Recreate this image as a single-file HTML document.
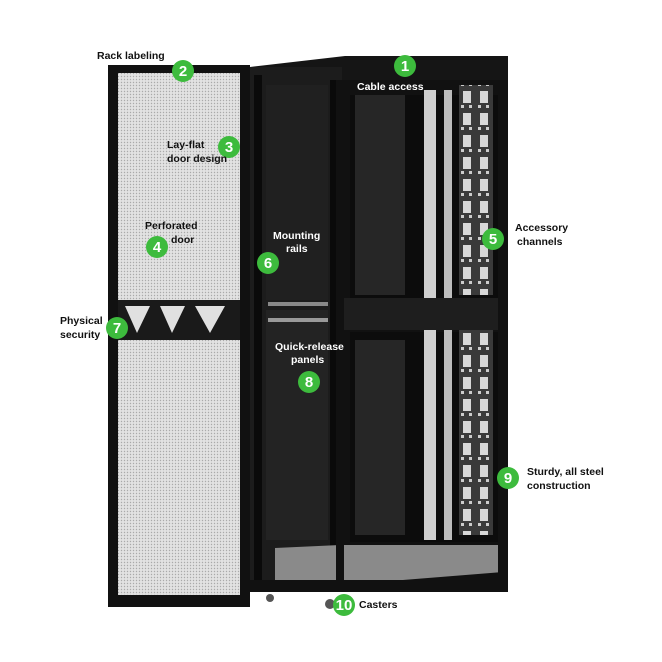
<!DOCTYPE html>
<html><head><style>
body{margin:0;background:#fff;}
svg{display:block;}
text{font-family:"Liberation Sans",sans-serif;font-weight:bold;}
</style></head><body>
<svg width="662" height="662" viewBox="0 0 662 662" xmlns="http://www.w3.org/2000/svg">
<defs>
<pattern id="mesh" width="3" height="3" patternUnits="userSpaceOnUse">
<rect width="3" height="3" fill="#e2e2e2"/><circle cx="1.5" cy="1.5" r="0.7" fill="#aaa"/>
</pattern>
<pattern id="holes" width="17" height="22" patternUnits="userSpaceOnUse">
<rect width="17" height="22" fill="#3a3a3a"/><rect x="4" y="3" width="8" height="12" fill="#d8d8d8"/><rect x="2" y="17" width="3" height="3" fill="#ccc"/><rect x="10" y="17" width="3" height="3" fill="#ccc"/>
</pattern>
</defs>
<!-- door -->
<rect x="108" y="65" width="142" height="542" fill="#111"/>
<rect x="118" y="73" width="122" height="522" fill="url(#mesh)"/>
<rect x="118" y="300" width="122" height="40" fill="#1a1a1a"/>
<path d="M125 306 L150 306 L137 333 Z M160 306 L185 306 L172 333 Z M195 306 L225 306 L210 333 Z" fill="#e0e0e0"/>
<!-- rack top -->
<polygon points="250,67 345,56 508,56 508,84 340,84 250,80" fill="#151515"/>
<!-- left side -->
<rect x="250" y="67" width="92" height="525" fill="#1c1c1c"/>
<rect x="254" y="75" width="8" height="510" fill="#0a0a0a"/>
<rect x="330" y="80" width="12" height="510" fill="#0a0a0a"/>
<rect x="266" y="85" width="62" height="215" fill="#202020"/>
<rect x="266" y="310" width="62" height="230" fill="#232323"/>
<rect x="268" y="302" width="60" height="4" fill="#888"/>
<rect x="268" y="318" width="60" height="4" fill="#999"/>
<!-- front -->
<rect x="340" y="80" width="168" height="512" fill="#111"/>
<rect x="350" y="95" width="150" height="205" fill="#0c0c0c"/>
<rect x="350" y="332" width="150" height="210" fill="#0c0c0c"/>
<rect x="355" y="95" width="50" height="200" fill="#262626"/>
<rect x="355" y="340" width="50" height="195" fill="#262626"/>
<rect x="424" y="90" width="12" height="450" fill="#cfcfcf"/>
<rect x="444" y="90" width="8" height="450" fill="#bdbdbd"/>
<rect x="459" y="85" width="34" height="210" fill="url(#holes)"/>
<rect x="459" y="330" width="34" height="205" fill="url(#holes)"/>
<rect x="340" y="298" width="168" height="32" fill="#1e1e1e"/>
<!-- floor -->
<polygon points="275,548 340,545 500,545 503,572 340,585 275,580" fill="#8a8a8a"/>
<rect x="336" y="80" width="8" height="512" fill="#111"/>
<rect x="250" y="580" width="258" height="12" fill="#111"/>
<rect x="498" y="80" width="10" height="512" fill="#111"/>
<circle cx="270" cy="598" r="4" fill="#555"/><circle cx="330" cy="604" r="5" fill="#555"/>
<!-- labels -->
<g fill="#3dbb3d">
<circle cx="405" cy="66" r="11"/><circle cx="183" cy="71" r="11"/><circle cx="229" cy="147" r="11"/>
<circle cx="157" cy="247" r="11"/><circle cx="493" cy="239" r="11"/><circle cx="268" cy="263" r="11"/>
<circle cx="117" cy="328" r="11"/><circle cx="309" cy="382" r="11"/><circle cx="508" cy="478" r="11"/>
<circle cx="344" cy="605" r="11"/>
</g>
<g fill="#fff" font-size="15" text-anchor="middle">
<text x="405" y="71">1</text><text x="183" y="76">2</text><text x="229" y="152">3</text>
<text x="157" y="252">4</text><text x="493" y="244">5</text><text x="268" y="268">6</text>
<text x="117" y="333">7</text><text x="309" y="387">8</text><text x="508" y="483">9</text>
<text x="344" y="610">10</text>
</g>
<g font-size="10.5" fill="#111">
<text x="97" y="59">Rack labeling</text>
<text x="167" y="148">Lay-flat</text><text x="167" y="162">door design</text>
<text x="145" y="229">Perforated</text><text x="171" y="243">door</text>
<text x="515" y="231">Accessory</text><text x="517" y="245">channels</text>
<text x="60" y="324">Physical</text><text x="60" y="338">security</text>
<text x="527" y="475">Sturdy, all steel</text><text x="527" y="489">construction</text>
<text x="359" y="608">Casters</text>
</g>
<g font-size="10.5" fill="#fff">
<text x="357" y="90">Cable access</text>
<text x="273" y="239">Mounting</text><text x="286" y="252">rails</text>
<text x="275" y="350">Quick-release</text><text x="291" y="363">panels</text>
</g>
</svg>
</body></html>
